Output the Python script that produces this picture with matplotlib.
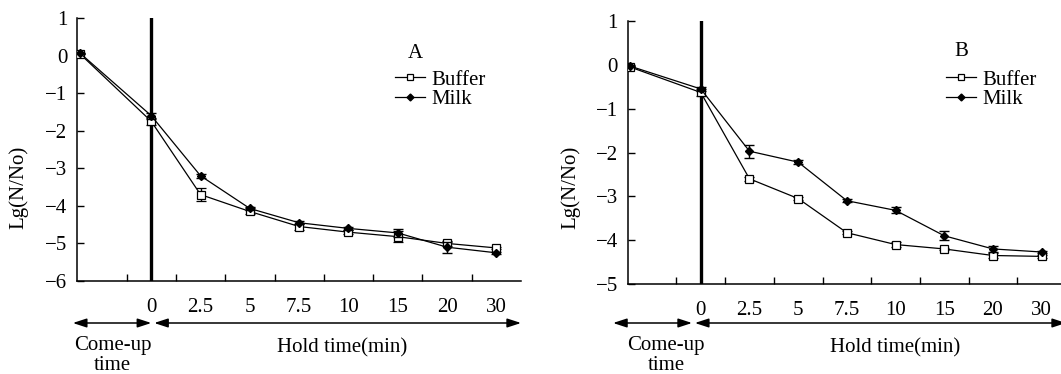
import numpy as np
import matplotlib
matplotlib.use("Agg")
import matplotlib.pyplot as plt
from matplotlib.lines import Line2D
from matplotlib.transforms import blended_transform_factory

plt.rcParams['font.family'] = ['Liberation Serif', 'DejaVu Serif']
plt.rcParams['font.size'] = 15
plt.rcParams['axes.unicode_minus'] = True

# ---------------- data ----------------
hold_labels = ["0", "2.5", "5", "7.5", "10", "15", "20", "30"]

# Panel A
a_buffer_start = 0.05
a_buffer = [-1.75, -3.70, -4.15, -4.55, -4.70, -4.82, -5.00, -5.12]
a_buffer_err = [0.10, 0.18, 0.08, 0.08, 0.05, 0.15, 0.07, 0.03]
a_milk_start = 0.07
a_milk = [-1.60, -3.20, -4.07, -4.45, -4.60, -4.72, -5.10, -5.25]
a_milk_err = [0.08, 0.06, 0.05, 0.04, 0.04, 0.10, 0.15, 0.03]

# Panel B
b_buffer_start = -0.05
b_buffer = [-0.63, -2.60, -3.05, -3.83, -4.10, -4.20, -4.35, -4.37]
b_buffer_err = [0.08, 0.05, 0.03, 0.03, 0.05, 0.03, 0.06, 0.04]
b_milk_start = -0.03
b_milk = [-0.55, -1.97, -2.22, -3.10, -3.32, -3.90, -4.20, -4.27]
b_milk_err = [0.05, 0.15, 0.05, 0.03, 0.07, 0.10, 0.07, 0.03]

W, H = 1061, 374
fig = plt.figure(figsize=(W / 100, H / 100), dpi=100)


def px_axes(left, top, right, bottom):
    return fig.add_axes([left / W, 1 - bottom / H, (right - left) / W, (bottom - top) / H])


def fy(py):
    return 1 - py / H


def draw_panel(ax, ylim, letter, bstart, bvals, berr, mstart, mvals, merr,
               come_arrow, hold_arrow, legend_xy, letter_xy, ylabel_x, come_x, hold_x):
    start_pos = -1.45
    pos = np.arange(len(hold_labels))
    xs = np.concatenate([[start_pos], pos])
    by = np.concatenate([[bstart], bvals])
    be = np.concatenate([[0.0], berr])
    my = np.concatenate([[mstart], mvals])
    me = np.concatenate([[0.0], merr])

    ax.axvline(0, color='black', lw=2.4, zorder=1)

    ax.errorbar(xs, by, yerr=be, color='black', lw=0.9, elinewidth=1.0, capsize=3.5,
                capthick=1.0, marker='s', ms=5.5, mfc='white', mec='black', mew=0.9,
                zorder=3, label='Buffer')
    ax.errorbar(xs, my, yerr=me, color='black', lw=0.9, elinewidth=1.0, capsize=3.5,
                capthick=1.0, marker='D', ms=4, mfc='black', mec='black',
                zorder=4, label='Milk')

    ax.set_xlim(-1.5, 7.5)
    ax.set_ylim(*ylim)
    ax.set_yticks(np.arange(ylim[0], ylim[1] + 1))
    ax.set_xticks(np.arange(-0.5, 7.0, 1.0))
    ax.set_xticklabels([])
    ax.set_xticks(pos, minor=True)
    ax.set_xticklabels(hold_labels, minor=True)
    ax.tick_params(axis='x', which='major', direction='in', length=5, width=1)
    ax.tick_params(axis='x', which='minor', length=0, pad=12)
    ax.tick_params(axis='y', direction='in', length=5, width=1, pad=7)
    for s in ['top', 'right']:
        ax.spines[s].set_visible(False)
    for s in ['left', 'bottom']:
        ax.spines[s].set_linewidth(1.1)

    ax.set_ylabel('Lg(N/No)')
    ax.yaxis.set_label_coords(ylabel_x, 0.5, transform=fig.transFigure)

    tr = blended_transform_factory(ax.transData, fig.transFigure)
    arrow_kw = dict(arrowstyle='<|-|>,head_length=0.55,head_width=0.18', color='black',
                    lw=1.1, shrinkA=0, shrinkB=0)
    ay = fy(323)
    ax.annotate('', xy=(come_arrow[1], ay), xytext=(come_arrow[0], ay), xycoords=tr,
                textcoords=tr, arrowprops=arrow_kw, annotation_clip=False)
    ax.annotate('', xy=(hold_arrow[1], ay), xytext=(hold_arrow[0], ay), xycoords=tr,
                textcoords=tr, arrowprops=arrow_kw, annotation_clip=False)
    ax.text(come_x, fy(350), 'Come-up', transform=tr, ha='center', va='baseline',
            clip_on=False)
    ax.text(come_x, fy(370), 'time', transform=tr, ha='center', va='baseline',
            clip_on=False)
    ax.text(hold_x, fy(348), 'Hold time(min)', transform=tr, ha='center', va='center',
            clip_on=False)

    fig.text(letter_xy[0] / W, fy(letter_xy[1]), letter, ha='center', va='center')
    handles = [Line2D([], [], color='black', lw=0.9, marker='s', ms=5, mfc='white',
                      mec='black', mew=0.9),
               Line2D([], [], color='black', lw=0.9, marker='D', ms=3.5, mfc='black')]
    fig.legend(handles, ['Buffer', 'Milk'], loc='upper left',
               bbox_to_anchor=(legend_xy[0] / W, fy(legend_xy[1])),
               frameon=False, handlelength=1.45, handletextpad=0.3, labelspacing=0.0,
               borderpad=0, borderaxespad=0, fontsize=15)


axA = px_axes(77.3, 18, 521, 281)
draw_panel(axA, (-6, 1), 'A', a_buffer_start, a_buffer, a_buffer_err,
           a_milk_start, a_milk, a_milk_err,
           come_arrow=(-1.59, 0.0), hold_arrow=(0.06, 7.5),
           legend_xy=(395, 70), letter_xy=(415, 53), ylabel_x=28 / W,
           come_x=-0.78, hold_x=3.87)

axB = px_axes(627.7, 21, 627.7 + 9 * 48.7, 284)
draw_panel(axB, (-5, 1), 'B', b_buffer_start, b_buffer, b_buffer_err,
           b_milk_start, b_milk, b_milk_err,
           come_arrow=(-1.8, -0.18), hold_arrow=(-0.12, 7.5),
           legend_xy=(946, 70), letter_xy=(961, 52), ylabel_x=580 / W,
           come_x=-0.71, hold_x=3.99)

fig.savefig('out.png', dpi=100)
